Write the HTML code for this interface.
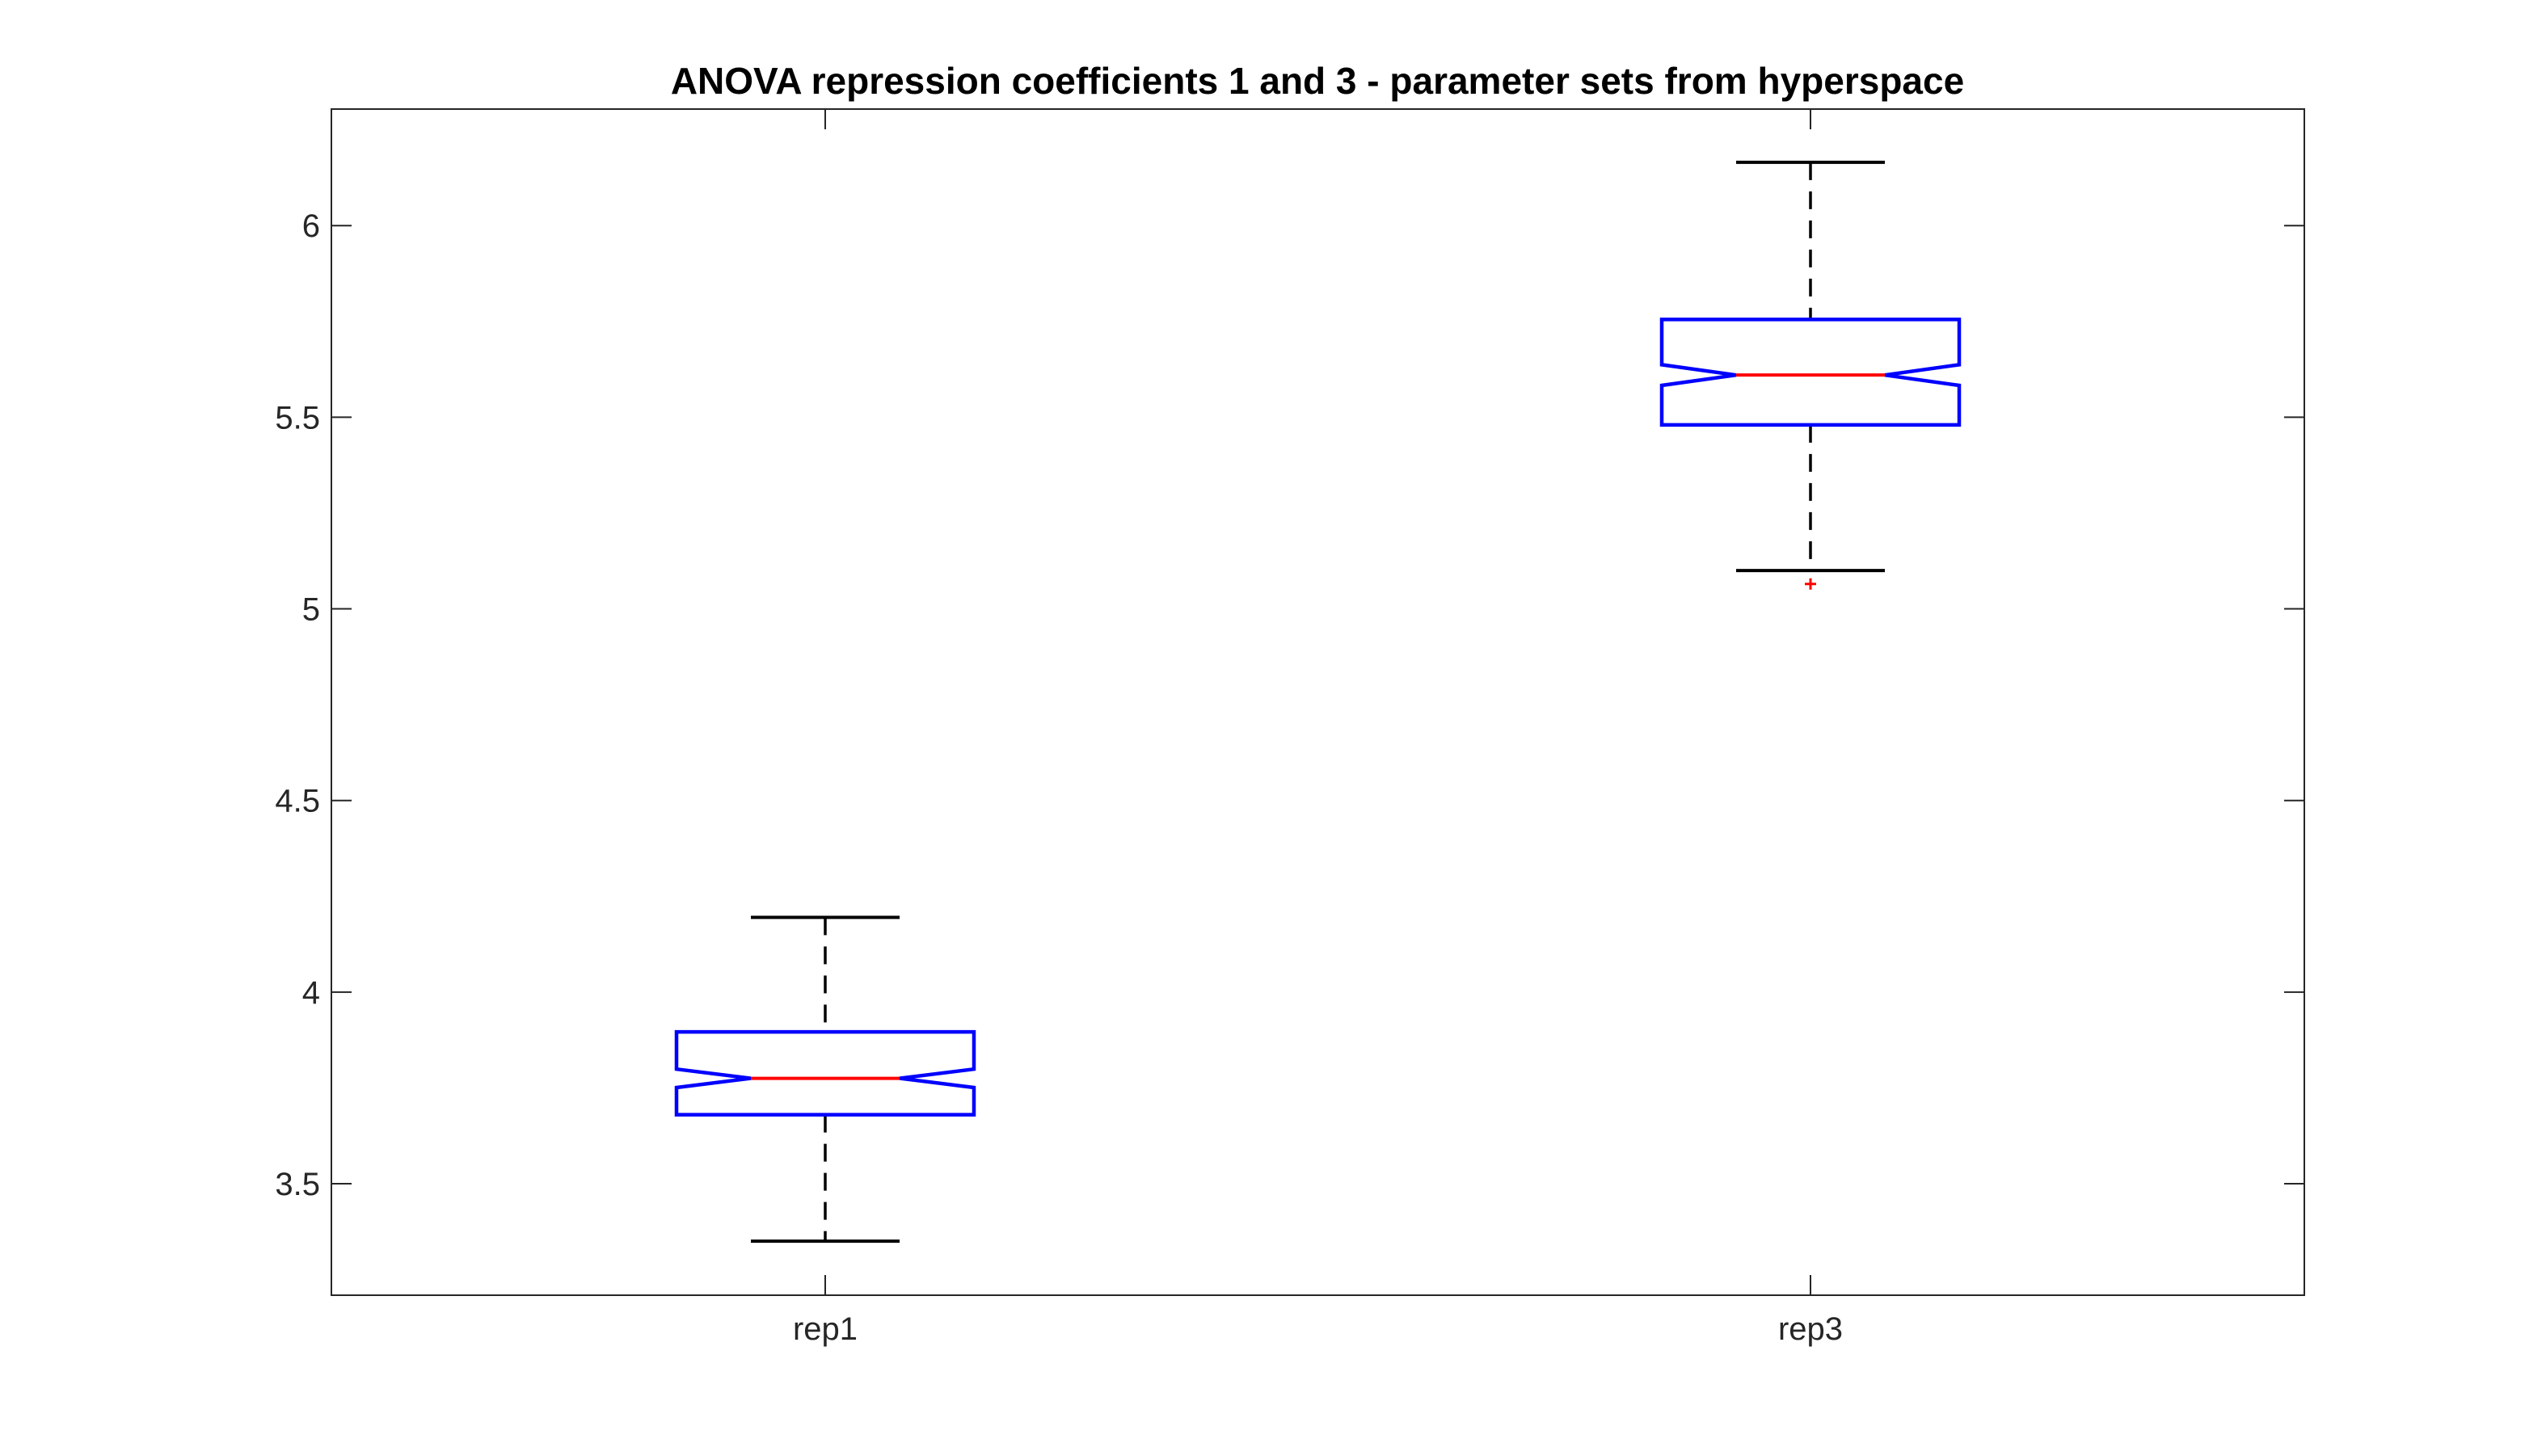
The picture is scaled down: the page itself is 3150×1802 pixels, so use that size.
<!DOCTYPE html>
<html><head><meta charset="utf-8"><style>
html,body{margin:0;padding:0;background:#fff;}
svg{display:block;font-family:"Liberation Sans",Arial,sans-serif;}
</style></head><body>
<svg id="chart" width="3150" height="1802" viewBox="0 0 3150 1802" xmlns="http://www.w3.org/2000/svg">
<rect x="0" y="0" width="3150" height="1802" fill="#fff"/>
<text x="1630" y="116" font-size="46" font-weight="bold" text-anchor="middle" fill="#000">ANOVA repression coefficients 1 and 3 - parameter sets from hyperspace</text>
<g id="plot"></g>
</svg>
<script>
const categories = ["rep1", "rep3"];
const upperWhisker = [4.195, 6.165];
const q3 = [3.896, 5.755];
const medians = [3.775, 5.61];
const q1 = [3.68, 5.48];
const lowerWhisker = [3.35, 5.10];
const notchHalf = [0.024, 0.027];
const outliers = [[], [5.065]];
const yTicks = [3.5, 4, 4.5, 5, 5.5, 6];
const yTickLabels = ["3.5", "4", "4.5", "5", "5.5", "6"];

const L = 410, R = 2851, T = 135, B = 1603;
const yMin = 3.2091, yMax = 6.304;
function y(v){ return B - (v - yMin) / (yMax - yMin) * (B - T); }
function x(i){ return 1021 + i * 1219; }
const NS = "http://www.w3.org/2000/svg";
const g = document.getElementById('plot');
function mk(tag, attrs){ const e = document.createElementNS(NS, tag); for (const k in attrs) e.setAttribute(k, attrs[k]); g.appendChild(e); return e; }

const ax = mk('rect', {x:L, y:T, width:R-L, height:B-T, fill:'none', stroke:'#262626', 'stroke-width':2});



yTicks.forEach((v, i) => {
  const t1 = mk('line', {x1:L, x2:L+25, y1:y(v), y2:y(v), stroke:'#262626', 'stroke-width':2});
  
  
  const t2 = mk('line', {x1:R-25, x2:R, y1:y(v), y2:y(v), stroke:'#262626', 'stroke-width':2});
  
  
  const lab = mk('text', {x:396, y:y(v)+14, 'font-size':40, 'text-anchor':'end', fill:'#262626'});
  lab.textContent = yTickLabels[i];
  
  
});

categories.forEach((c, i) => {
  const cx = x(i), hw = 184, cw = 92;
  const tb = mk('line', {x1:cx, x2:cx, y1:B, y2:B-25, stroke:'#262626', 'stroke-width':2});
  
  
  const tt = mk('line', {x1:cx, x2:cx, y1:T, y2:T+25, stroke:'#262626', 'stroke-width':2});
  
  
  const xl = mk('text', {x:cx, y:1658, 'font-size':40, 'text-anchor':'middle', fill:'#262626'});
  xl.textContent = c;
  
  

  const w1 = mk('line', {x1:cx, x2:cx, y1:y(upperWhisker[i]), y2:y(q3[i]), stroke:'#000', 'stroke-width':3.5, 'stroke-dasharray':'22 14'});
  
  
  const w2 = mk('line', {x1:cx, x2:cx, y1:y(q1[i]), y2:y(lowerWhisker[i]), stroke:'#000', 'stroke-width':3.5, 'stroke-dasharray':'22 14'});
  
  
  const c1 = mk('line', {x1:cx-cw, x2:cx+cw, y1:y(upperWhisker[i]), y2:y(upperWhisker[i]), stroke:'#000', 'stroke-width':4});
  
  
  const c2 = mk('line', {x1:cx-cw, x2:cx+cw, y1:y(lowerWhisker[i]), y2:y(lowerWhisker[i]), stroke:'#000', 'stroke-width':4});
  
  

  const yt = y(q3[i]), yb = y(q1[i]), ym = y(medians[i]);
  const nu = y(medians[i] + notchHalf[i]), nl = y(medians[i] - notchHalf[i]);
  const pts = [[cx-hw,yt],[cx+hw,yt],[cx+hw,nu],[cx+cw,ym],[cx+hw,nl],[cx+hw,yb],[cx-hw,yb],[cx-hw,nl],[cx-cw,ym],[cx-hw,nu]];
  const box = mk('polygon', {points: pts.map(p => p.join(',')).join(' '), fill:'none', stroke:'#0000ff', 'stroke-width':4.5});
  
  
  const med = mk('line', {x1:cx-cw, x2:cx+cw, y1:ym, y2:ym, stroke:'#ff0000', 'stroke-width':4});
  
  

  outliers[i].forEach(o => {
    const oy = y(o);
    const p = mk('path', {d:`M${cx-7},${oy} H${cx+7} M${cx},${oy-7} V${oy+7}`, stroke:'#ff0000', 'stroke-width':3, fill:'none'});
    
    
  });
});
</script>
</body></html>
